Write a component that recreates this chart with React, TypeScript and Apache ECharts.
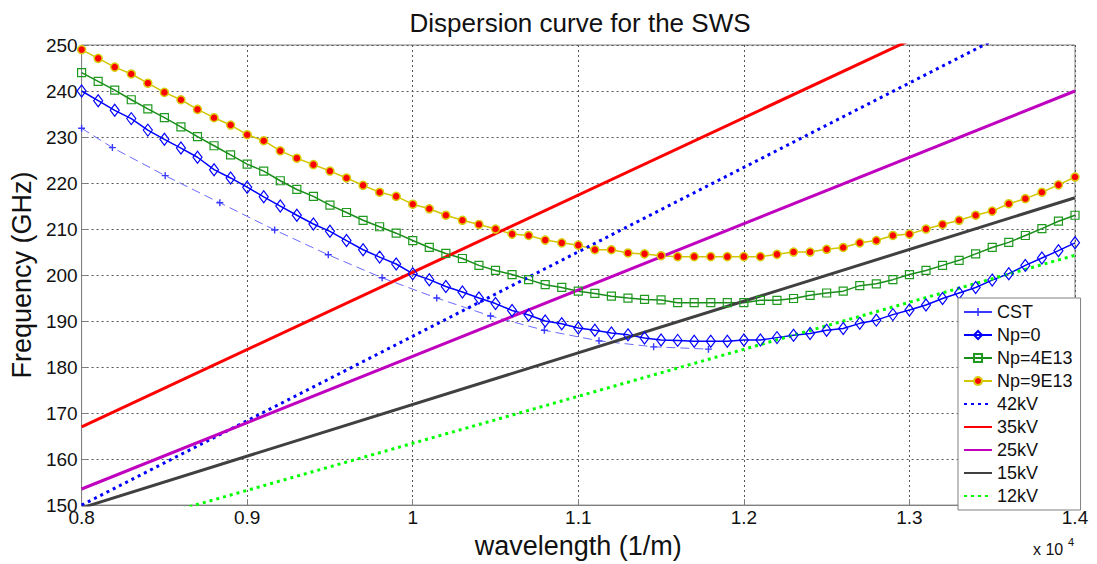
import React, { useEffect, useRef } from 'react';
import * as echarts from 'echarts';

const npX = [
  0.8, 0.81, 0.82, 0.83, 0.84, 0.85, 0.86, 0.87, 0.88, 0.89,
  0.9, 0.91, 0.92, 0.93, 0.94, 0.95, 0.96, 0.97, 0.98, 0.99,
  1.0, 1.01, 1.02, 1.03, 1.04, 1.05, 1.06, 1.07, 1.08, 1.09,
  1.1, 1.11, 1.12, 1.13, 1.14, 1.15, 1.16, 1.17, 1.18, 1.19,
  1.2, 1.21, 1.22, 1.23, 1.24, 1.25, 1.26, 1.27, 1.28, 1.29,
  1.3, 1.31, 1.32, 1.33, 1.34, 1.35, 1.36, 1.37, 1.38, 1.39, 1.4,
];

const np0 = [
  240.0, 237.9, 235.8, 234.0, 231.5, 229.5, 227.6, 225.6, 222.9, 221.1,
  219.1, 217.0, 215.0, 213.0, 211.1, 209.5, 207.5, 205.5, 203.9, 202.4,
  200.3, 199.0, 197.5, 196.3, 195.0, 193.8, 192.3, 191.3, 190.0, 189.4,
  188.5, 188.0, 187.4, 187.0, 186.3, 185.9, 185.8, 185.6, 185.6, 185.6,
  185.9, 185.9, 186.4, 186.9, 187.3, 188.0, 188.4, 189.5, 190.2, 191.4,
  192.4, 193.5, 194.9, 196.1, 197.3, 198.9, 200.3, 202.1, 203.7, 205.3, 207.0,
];

const np4 = [
  244.0, 242.1, 240.2, 238.1, 236.1, 234.2, 232.2, 230.1, 228.1, 226.1,
  224.1, 222.6, 220.5, 218.6, 217.1, 215.2, 213.6, 211.9, 210.5, 209.1,
  207.5, 206.0, 204.7, 203.6, 202.1, 201.0, 200.1, 199.0, 197.9, 197.3,
  196.5, 196.0, 195.4, 195.0, 194.7, 194.6, 194.0, 194.0, 194.0, 194.0,
  194.0, 194.5, 194.5, 194.9, 195.6, 196.1, 196.5, 197.7, 198.1, 199.0,
  200.1, 201.0, 202.1, 203.2, 204.6, 206.0, 207.1, 208.6, 210.1, 211.7, 213.0,
];

const np9 = [
  249.0, 247.1, 245.2, 243.7, 241.7, 239.7, 238.1, 236.0, 234.2, 232.6,
  230.5, 229.2, 227.0, 225.4, 224.0, 222.6, 221.1, 219.5, 218.0, 217.1,
  215.4, 214.4, 213.0, 211.9, 211.0, 210.0, 208.9, 208.6, 207.6, 207.0,
  206.5, 205.5, 205.5, 204.8, 204.6, 204.2, 204.0, 204.0, 204.0, 204.0,
  204.0, 204.0, 204.5, 205.0, 205.0, 205.6, 206.0, 207.0, 207.5, 208.6,
  208.9, 210.0, 211.0, 211.9, 213.0, 213.9, 215.5, 216.6, 218.0, 219.6, 221.3,
];

const cstX = [0.8, 0.8186, 0.8505, 0.8835, 0.9166, 0.949, 0.9815, 1.0145, 1.047, 1.0795, 1.1125, 1.1455, 1.1786];
const cstY = [231.9, 227.7, 221.6, 215.7, 209.8, 204.4, 199.4, 195.0, 191.1, 188.0, 185.7, 184.4, 183.9];

const lineX = [0.8, 1.4];
const kv42 = [150.0, 260.1];
const kv35 = [167.0, 267.8];
const kv25 = [153.5, 240.0];
const kv15 = [149.4, 216.8];
const kv12 = [143.0, 204.3];

const xTicks = { min: 0.8, max: 1.4, interval: 0.1 };
const yTicks = { min: 150, max: 250, interval: 10 };

const legendNames = ['CST', 'Np=0', 'Np=4E13', 'Np=9E13', '42kV', '35kV', '25kV', '15kV', '12kV'];

const zip = (xs: number[], ys: number[]) => xs.map((x, i) => [x, ys[i]]);

const FONT = "'Liberation Sans', Arial, Helvetica, sans-serif";

export default function App() {
  const ref = useRef<HTMLDivElement>(null);
  useEffect(() => {
    const chart = echarts.init(ref.current!, null, { renderer: 'svg' });
    const straight = (name: string, ys: number[], color: string, dotted: boolean) => ({
      name,
      type: 'line',
      data: zip(lineX, ys),
      symbol: 'none',
      silent: true,
      lineStyle: { color, width: 3, type: dotted ? [3, 4] : 'solid', cap: 'butt' },
      itemStyle: { color: 'rgba(0,0,0,0)', borderColor: 'rgba(0,0,0,0)' },
    });
    const legendData = legendNames.map((n) =>
      n === 'CST' ? { name: n, lineStyle: { type: 'solid', color: '#3a3aff' } } : { name: n }
    );
    const option: any = {
      animation: false,
      backgroundColor: '#fff',
      textStyle: { fontFamily: FONT },
      title: {
        text: 'Dispersion curve for the SWS',
        left: 575,
        textAlign: 'center',
        top: 5,
        textStyle: { fontFamily: FONT, fontSize: 26, fontWeight: 'normal', color: '#111' },
      },
      grid: {
        left: 76,
        right: 22,
        top: 45,
        bottom: 54,
        show: true,
        borderColor: '#808080',
        borderWidth: 1,
        backgroundColor: '#fff',
      },
      xAxis: {
        type: 'value',
        ...xTicks,
        name: 'wavelength (1/m)',
        nameLocation: 'middle',
        nameGap: 26,
        nameTextStyle: { fontFamily: FONT, fontSize: 27, color: '#111' },
        axisLine: { show: true, lineStyle: { color: '#808080' } },
        axisTick: { show: true, inside: true, length: 6, lineStyle: { color: '#808080' } },
        axisLabel: {
          fontFamily: FONT,
          fontSize: 19,
          color: '#111',
          margin: 3,
          formatter: (v: number) => String(parseFloat(v.toFixed(2))),
        },
        splitLine: { show: true, lineStyle: { color: '#555', type: [2, 3], width: 1 } },
      },
      yAxis: {
        type: 'value',
        ...yTicks,
        name: 'Frequency (GHz)',
        nameLocation: 'middle',
        nameGap: 41,
        nameTextStyle: { fontFamily: FONT, fontSize: 27, color: '#111' },
        axisLine: { show: true, lineStyle: { color: '#808080' } },
        axisTick: { show: true, inside: true, length: 6, lineStyle: { color: '#808080' } },
        axisLabel: { fontFamily: FONT, fontSize: 19, color: '#111', margin: 4 },
        splitLine: { show: true, lineStyle: { color: '#555', type: [2, 3], width: 1 } },
      },
      legend: {
        data: legendData,
        orient: 'vertical',
        left: 958,
        top: 298,
        itemWidth: 28,
        itemHeight: 10,
        itemGap: 5,
        padding: [5, 8, 5, 5],
        backgroundColor: '#fff',
        borderColor: '#808080',
        borderWidth: 1,
        borderRadius: 0,
        selectedMode: false,
        textStyle: { fontFamily: FONT, fontSize: 18, color: '#111', lineHeight: 18 },
      },
      graphic: [
        { type: 'text', left: 1033, top: 541, style: { text: 'x 10', font: `16px ${FONT}`, fill: '#111' } },
        { type: 'text', left: 1068, top: 536, style: { text: '4', font: `11px ${FONT}`, fill: '#111' } },
      ],
      series: [
        {
          name: 'CST',
          type: 'line',
          data: zip(cstX, cstY),
          symbol: 'path://M4,0h2v10h-2z M0,4h10v2h-10z',
          symbolSize: 7,
          silent: true,
          lineStyle: { color: '#6a6aff', width: 1, type: [9, 5] },
          itemStyle: { color: '#3a3aff' },
        },
        {
          name: 'Np=0',
          type: 'line',
          data: zip(npX, np0),
          symbol: 'diamond',
          symbolSize: [9, 12],
          silent: true,
          lineStyle: { color: '#0000ff', width: 1.5 },
          itemStyle: { color: 'rgba(255,255,255,0)', borderColor: '#0000ff', borderWidth: 1.2 },
        },
        {
          name: 'Np=4E13',
          type: 'line',
          data: zip(npX, np4),
          symbol: 'rect',
          symbolSize: 8,
          silent: true,
          lineStyle: { color: '#1a8c1a', width: 1.5 },
          itemStyle: { color: 'rgba(255,255,255,0)', borderColor: '#1f9a1f', borderWidth: 1.2 },
        },
        {
          name: 'Np=9E13',
          type: 'line',
          data: zip(npX, np9),
          symbol: 'circle',
          symbolSize: 8,
          silent: true,
          lineStyle: { color: '#d2c600', width: 1.5 },
          itemStyle: { color: '#ff0000', borderColor: '#d8cc10', borderWidth: 1.5 },
        },
        straight('42kV', kv42, '#0000ff', true),
        straight('35kV', kv35, '#ff0000', false),
        straight('25kV', kv25, '#bf00bf', false),
        straight('15kV', kv15, '#404040', false),
        straight('12kV', kv12, '#00ff00', true),
      ],
    };
    chart.setOption(option);
    return () => chart.dispose();
  }, []);
  return (
    <div
      ref={ref}
      style={{ position: 'absolute', left: 0, top: 0, width: 1097, height: 564, background: '#fff' }}
    />
  );
}
